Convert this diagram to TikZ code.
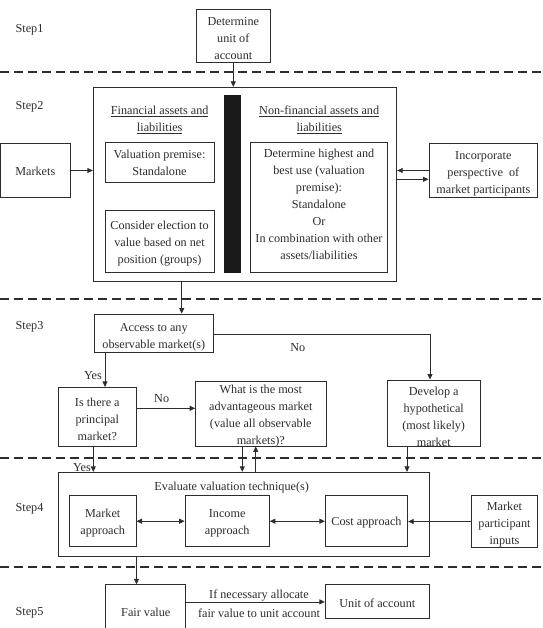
\documentclass[tikz,border=0pt]{standalone}
\usepackage{fontspec}
\setmainfont{Liberation Serif}
\usetikzlibrary{arrows.meta,calc}
\definecolor{ink}{RGB}{45,45,45}
% #1 name, #2 centre, #3 width, #4 height, #5 text shift (down), #6 text
\newcommand{\mybox}[6]{%
  \node[box, minimum width=#3, minimum height=#4] (#1) at (#2) {};
  \node[txt] (#1t) at ($(#2)+(0,#5)$) {#6};}
\begin{document}
\begin{tikzpicture}[x=1pt,y=-1pt,
 every node/.style={font=\fontsize{12.2}{17}\selectfont, text=ink},
 box/.style={draw=ink, line width=0.9pt, inner sep=0pt},
 txt/.style={inner sep=0pt, align=center},
 arr/.style={draw=ink, line width=0.8pt, -{Triangle[length=5.5pt,width=5pt]}},
 darr/.style={draw=ink, line width=0.8pt, {Triangle[length=5.5pt,width=5pt]}-{Triangle[length=5.5pt,width=5pt]}},
 ln/.style={draw=ink, line width=0.9pt},
 sep/.style={draw=ink, line width=1.8pt, dash pattern=on 9pt off 5pt}]
\useasboundingbox (0,0) rectangle (542,628);

% separators
\foreach \yy/\nm in {72/a,299/b,458.3/c,567.3/d}{
  \coordinate (sepL\nm) at (0,\yy);
  \coordinate (sepR\nm) at (542,\yy);
  \draw[sep] (sepL\nm) -- (sepR\nm);
}

% step labels
\node[txt] (s1) at (29.5,29.5) {Step1};
\node[txt] (s2) at (29.5,106.5) {Step2};
\node[txt] (s3) at (29.5,326.5) {Step3};
\node[txt] (s4) at (29.5,509) {Step4};
\node[txt] (s5) at (29.5,613) {Step5};

% step 1
\mybox{det}{233.3,35.5}{73.5}{53}{3}{Determine\\unit of\\account}

% step 2
\node[box, minimum width=303.4, minimum height=193.7] (big) at (245,184.15) {};
\node[draw=black!90, fill=black!90, inner sep=0pt, minimum width=16, minimum height=177.3] (bar) at (232.3,183.65) {};
\node[txt] (finh) at (159.7,120) {\underline{Financial assets and}\\\underline{liabilities}};
\node[txt] (nfh) at (319.2,120) {\underline{Non-financial assets and}\\\underline{liabilities}};
\mybox{vp}{159.5,162.5}{109}{40.4}{0.5}{Valuation premise:\\Standalone}
\mybox{ce}{159.5,241.15}{109}{62.3}{2.5}{Consider election to\\value based on net\\position (groups)}
\mybox{hbu}{319,207.3}{136.6}{130}{-3}{Determine highest and\\best use (valuation\\premise):\\Standalone\\Or\\In combination with other\\assets/liabilities}
\mybox{inc}{483.3,170.5}{108.7}{54.4}{3}{Incorporate\\perspective\ \ of\\market participants}
\mybox{mkts}{35.3,170.5}{69.5}{54.4}{1}{Markets}

\draw[arr] (det.south) -- (det.south |- big.north);
\draw[arr] (mkts.east) -- (mkts.east -| big.west);
\draw[arr] (inc.west) -- (inc.west -| big.east);
\draw[arr] ([yshift=-8.8pt]inc.west -| big.east) -- ([yshift=-8.8pt]inc.west);

% step 3
\mybox{access}{153.8,333.2}{119}{38.3}{4.5}{Access to any\\observable market(s)}
\mybox{isthere}{97.3,416.7}{77.3}{58.7}{2.5}{Is there a\\principal\\market?}
\mybox{what}{260.8,413.5}{130.3}{65}{3}{What is the most\\advantageous market\\(value all observable\\markets)?}
\mybox{dev}{433.7,413}{92.7}{66}{3.5}{Develop a\\hypothetical\\(most likely)\\market}

\draw[arr] ([xshift=27.9pt]access.north |- big.south) -- ([xshift=27.9pt]access.north);
\draw[arr] ([yshift=-1.5pt]access.east) -| ([xshift=-3.7pt]dev.north);
\node[txt] (no1) at (297.7,347.5) {No};
\draw[arr] ([xshift=7.7pt]isthere.north |- access.south) -- ([xshift=7.7pt]isthere.north);
\node[txt] (yes1) at (93,376) {Yes};
\draw[arr] ([yshift=8.4pt]isthere.east) -- ([yshift=8.4pt]isthere.east -| what.west);
\node[txt] (no2) at (161.7,399) {No};

% step 4
\node[box, minimum width=371, minimum height=84.4] (eval) at (243.8,514.5) {};
\node[txt] (evalt) at (231.7,487.5) {Evaluate valuation technique(s)};
\mybox{mkt}{102.7,521.2}{66.7}{51}{2}{Market\\approach}
\mybox{incm}{227.2,521.2}{84.3}{51}{2}{Income\\approach}
\mybox{cost}{366.5,521.2}{82.4}{51}{1.5}{Cost approach}
\mybox{mpi}{504.5,521.5}{66.4}{51.6}{3}{Market\\participant\\inputs}

\draw[arr] ([xshift=-4pt]isthere.south) -- ([xshift=-4pt]isthere.south |- eval.north);
\node[txt] (yes2) at (82,468) {Yes};
\draw[arr] ([xshift=-18.5pt]what.south) -- ([xshift=-18.5pt]what.south |- eval.north);
\draw[arr] ([xshift=-5.1pt]what.south |- eval.north) -- ([xshift=-5.1pt]what.south);
\draw[arr] ([xshift=-26.7pt]dev.south) -- ([xshift=-26.7pt]dev.south |- eval.north);
\draw[darr] (mkt.east) -- (incm.west);
\draw[darr] (incm.east) -- (cost.west);
\draw[arr] (mpi.west) -- (mpi.west -| cost.east);

% step 5
\node[inner sep=0pt, minimum width=79.7, minimum height=44, anchor=north] (fair) at (145.85,584.3) {};
\draw[ln] (fair.south west) -- (fair.north west) -- (fair.north east) -- (fair.south east);
\node[txt] (fairt) at (145.8,612) {Fair value};
\mybox{uoa}{377.3,601.3}{104}{34}{1.5}{Unit of account}
\draw[arr] (eval.south -| mkt.east) -- (fair.north -| mkt.east);
\draw[arr] ([yshift=-0.6pt]uoa.west -| fair.east) -- ([yshift=-0.6pt]uoa.west);
\node[txt] (al1) at (259,595.5) {If necessary allocate};
\node[txt] (al2) at (259,613) {fair value to unit account};
\end{tikzpicture}
\end{document}
